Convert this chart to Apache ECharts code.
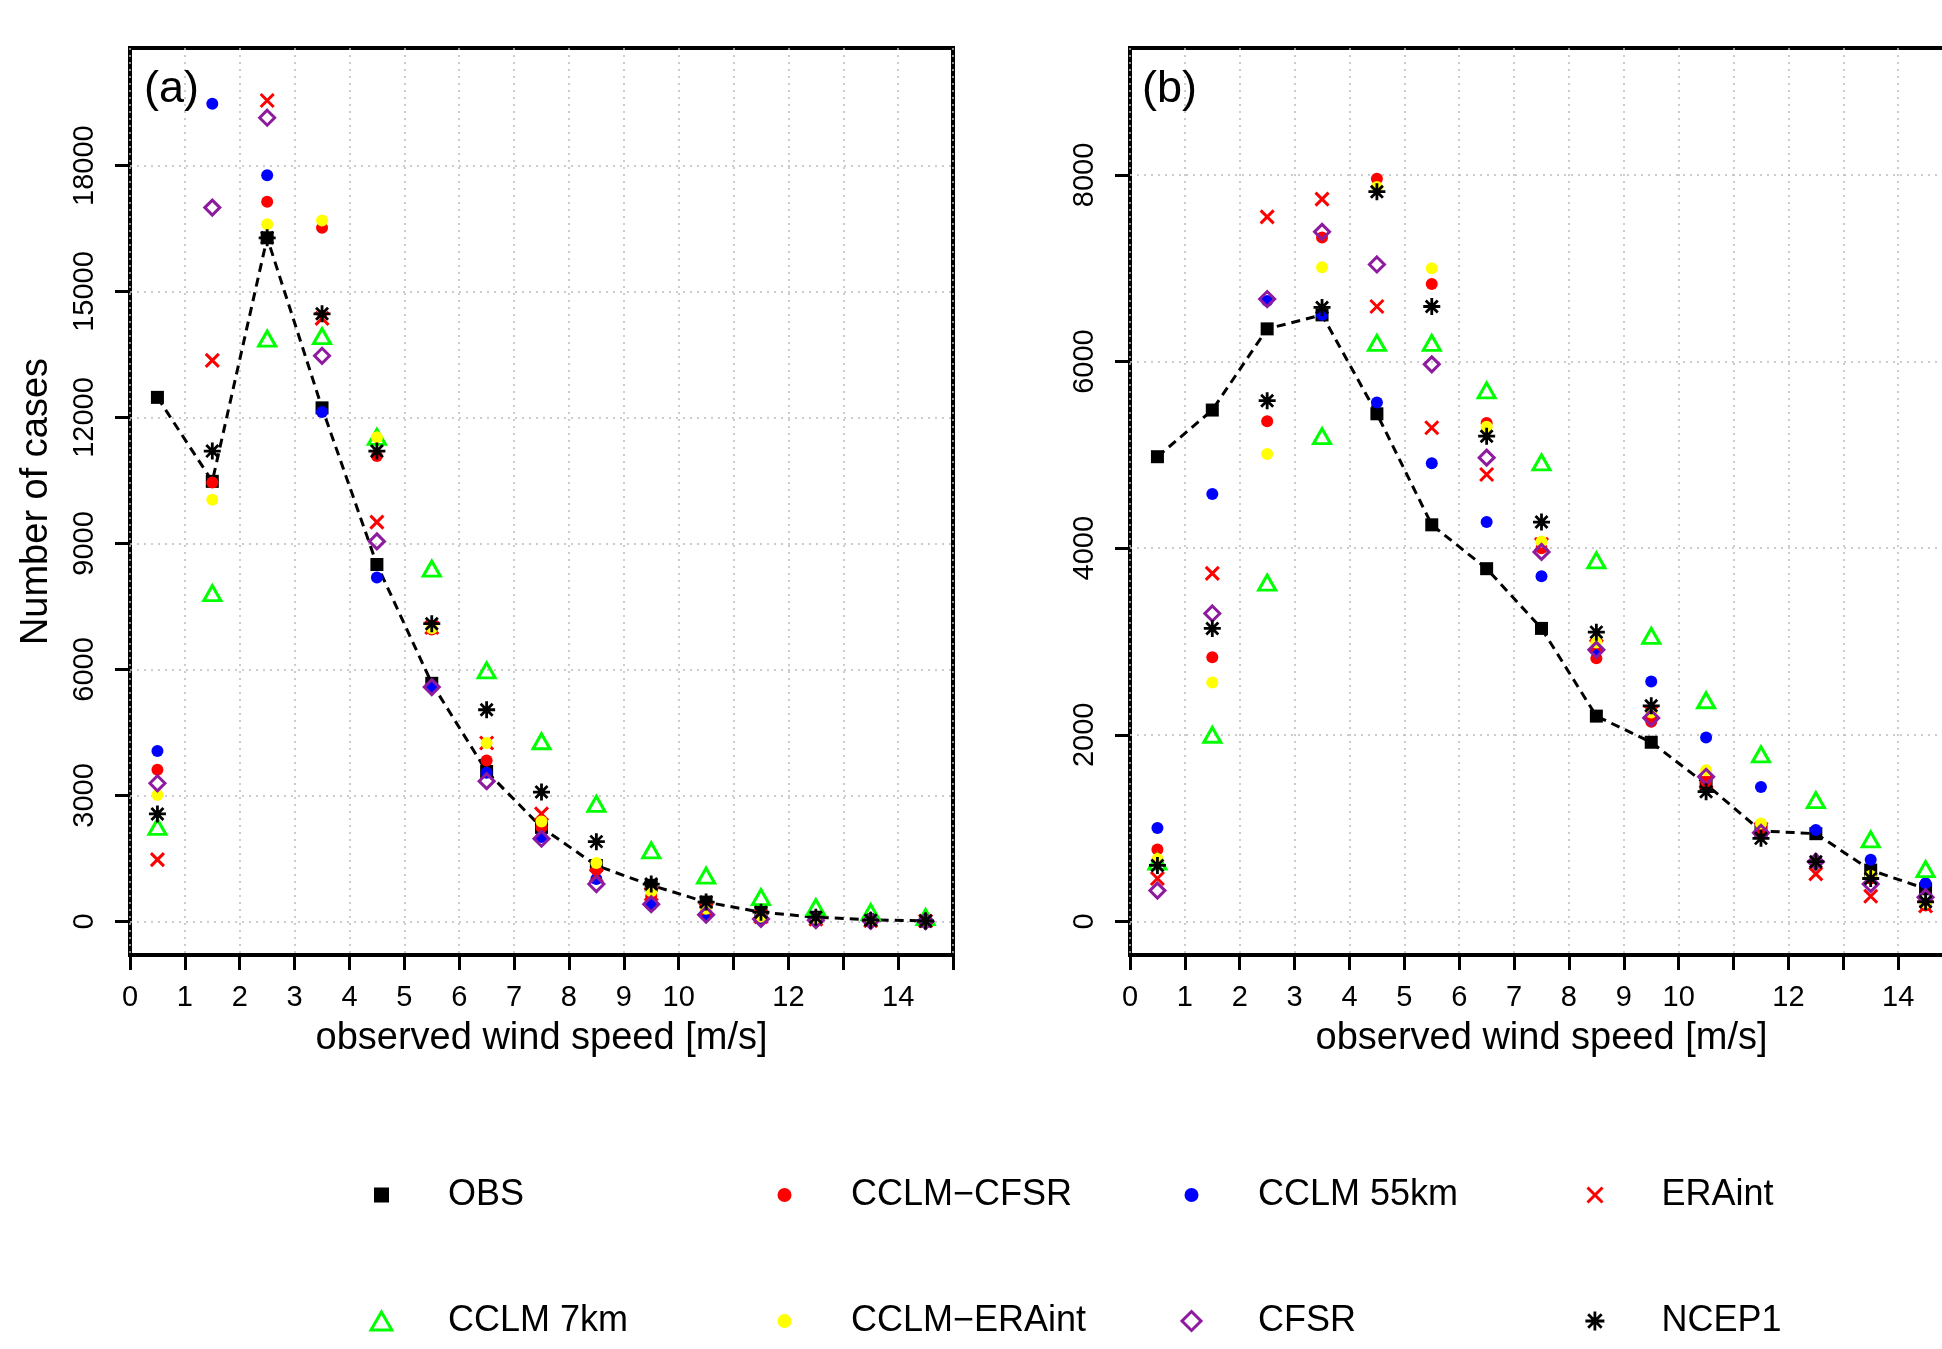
<!DOCTYPE html>
<html>
<head>
<meta charset="utf-8">
<script src="https://cdn.jsdelivr.net/npm/echarts@6/dist/echarts.min.js"></script>
<style>
html,body{margin:0;padding:0;background:#fff;}
#chart{width:1942px;height:1349px;}
</style>
</head>
<body>
<div id="chart"></div>
<script>
// ---------------- data ----------------
const windSpeed = [0.5,1.5,2.5,3.5,4.5,5.5,6.5,7.5,8.5,9.5,10.5,11.5,12.5,13.5,14.5];
const xTickLabels = [0,1,2,3,4,5,6,7,8,9,10,12,14];
const yTickLabelsA = [0,3000,6000,9000,12000,15000,18000];
const yTickLabelsB = [0,2000,4000,6000,8000];
const seriesNames = ['OBS','CCLM\u2212CFSR','CCLM 55km','ERAint','CCLM 7km','CCLM\u2212ERAint','CFSR','NCEP1'];

// panel (a)
const obsA        = [12480,10480,16280,12230,8500,5670,3570,2240,1330,860,460,220,100,40,10];
const cclmCfsrA   = [3610,10450,17140,16520,11085,6950,3830,2240,1230,600,250,90,50,20,10];
const cclm55A     = [4060,19470,17770,12130,8190,5580,3540,2010,1010,390,160,70,30,10,5];
const eraintA     = [1470,13360,19550,14360,9510,7000,4250,2560,1090,650,280,110,50,20,10];
const cclm7A      = [2250,7820,13880,13940,11540,8400,5980,4290,2800,1690,1090,580,340,220,100];
const cclmEraA    = [3010,10040,16600,16690,11530,6980,4250,2380,1390,720,300,110,60,20,10];
const cfsrA       = [3290,17000,19140,13470,9050,5580,3340,1970,890,410,160,60,30,10,5];
const ncep1A      = [2560,11200,16280,14470,11200,7090,5040,3080,1900,890,460,220,100,30,10];

// panel (b)
const obsB        = [4980,5480,6350,6500,5440,4250,3780,3140,2200,1920,1470,970,940,550,350];
const cclmCfsrB   = [770,2830,5360,7330,7960,6830,5340,4000,2820,2140,1500,1000,630,460,170];
const cclm55B     = [1000,4580,6650,6500,5560,4910,4280,3700,2900,2570,1970,1440,980,660,410];
const eraintB     = [460,3730,7550,7740,6590,5290,4790,4040,2950,2240,1500,990,510,270,165];
const cclm7B      = [640,2000,3630,5200,6200,6200,5690,4920,3870,3060,2370,1790,1300,880,560];
const cclmEraB    = [670,2560,5010,7010,7870,7000,5300,4070,2990,2240,1620,1050,640,490,200];
const cfsrB       = [330,3300,6670,7390,7040,5970,4970,3960,2910,2180,1550,950,640,400,260];
const ncep1B      = [600,3140,5580,6580,7820,6590,5200,4280,3100,2310,1390,890,640,460,210];

const panelA = [obsA,cclmCfsrA,cclm55A,eraintA,cclm7A,cclmEraA,cfsrA,ncep1A];
const panelB = [obsB,cclmCfsrB,cclm55B,eraintB,cclm7B,cclmEraB,cfsrB,ncep1B];

// ---------------- styles ----------------
const FONT = "'Liberation Sans', Arial, Helvetica, sans-serif";
const TRANSP = 'rgba(0,0,0,0)';
const SYM = {
  square: 'path://M0 0L10 0L10 10L0 10Z',
  cross: 'path://M0 0L10 10M0 10L10 0',
  triangle: 'path://M5 0L10 8.66L0 8.66Z',
  diamond: 'path://M5 0L10 5L5 10L0 5Z',
  star: 'path://M10 0L10 20M0 10L20 10M2.93 2.93L17.07 17.07M2.93 17.07L17.07 2.93'
};
const styles = [
  {symbol: SYM.square, size: 13, item: {color:'#000000', borderWidth:0, opacity:1}},
  {symbol: 'circle', size: 12, item: {color:'#ff0000', borderWidth:0, opacity:1}},
  {symbol: 'circle', size: 12, item: {color:'#0000ff', borderWidth:0, opacity:1}},
  {symbol: SYM.cross, size: 13, item: {color:TRANSP, borderColor:'#ff0000', borderWidth:3, opacity:1}},
  {symbol: SYM.triangle, size: [17,15], item: {color:TRANSP, borderColor:'#00ff00', borderWidth:3, opacity:1}},
  {symbol: 'circle', size: 12, item: {color:'#ffff00', borderWidth:0, opacity:1}},
  {symbol: SYM.diamond, size: 15, item: {color:TRANSP, borderColor:'#8e1a9f', borderWidth:3, opacity:1}},
  {symbol: SYM.star, size: 17, item: {color:TRANSP, borderColor:'#000000', borderWidth:2.8, opacity:1}}
];

// ---------------- axes ----------------
const gridLine = {show:true, lineStyle:{color:'#bcbcbc', width:1.5, type:[2,5]}};
const tickStyle = {show:true, length:15, lineStyle:{color:'#000', width:3}};
const plainNum = v => String(v);

function xAxisFor(idx) {
  return {
    type:'value', gridIndex:idx, min:0, max:15, interval:1,
    axisLine:{show:false, onZero:false},
    axisTick:tickStyle,
    axisLabel:{customValues:xTickLabels, formatter:plainNum, fontSize:29, lineHeight:29, margin:28, color:'#000', fontFamily:FONT},
    splitLine:gridLine,
    name:'observed wind speed [m/s]', nameLocation:'middle', nameGap:64,
    nameTextStyle:{fontSize:38, lineHeight:40, color:'#000', fontFamily:FONT}
  };
}
function yAxisFor(idx, mn, mx, labels, withName) {
  const ax = {
    type:'value', gridIndex:idx, min:mn, max:mx,
    axisLine:{show:false, onZero:false},
    axisTick:Object.assign({customValues:labels}, tickStyle),
    axisLabel:{customValues:labels, formatter:plainNum, rotate:90, fontSize:29, lineHeight:30, margin:30, color:'#000', fontFamily:FONT},
    splitLine:gridLine
  };
  if (withName) {
    ax.name = 'Number of cases';
    ax.nameLocation = 'middle';
    ax.nameGap = 73;
    ax.nameTextStyle = {fontSize:38, lineHeight:40, color:'#000', fontFamily:FONT};
  }
  return ax;
}

// ---------------- series ----------------
function pairs(vals) { return windSpeed.map((x,i)=>[x, vals[i]]); }
const series = [];
[panelA, panelB].forEach((panel, p) => {
  series.push({
    type:'line', name:'OBS line', xAxisIndex:p, yAxisIndex:p,
    data:pairs(panel[0]), symbol:'none', silent:true, z:1,
    lineStyle:{color:'#000', width:3, type:[9,6]}
  });
  panel.forEach((vals, k) => {
    const st = styles[k];
    series.push({
      type:'scatter', name:seriesNames[k], xAxisIndex:p, yAxisIndex:p,
      data:pairs(vals), symbol:st.symbol, symbolSize:st.size,
      itemStyle:st.item, emphasis:{disabled:true}, z:2 + k*0.01
    });
  });
});

// ---------------- legends ----------------
const legRowY = [1195, 1321];
const legColX = [381.5, 784.5, 1191.5, 1595];
const legendIcon = [SYM.square, 'circle', 'circle', SYM.cross, SYM.triangle, 'circle', SYM.diamond, SYM.star];
const legendIconH = [15, 14, 14, 15, 18, 14, 19, 19];
const legendIconW = [15, 14, 14, 18, 24, 14, 22, 22];
const legends = seriesNames.map((nm, k) => {
  const row = Math.floor(k/4), col = k%4;
  return {
    data:[{name:nm, icon:legendIcon[k], itemStyle:styles[k].item}],
    left: legColX[col] - legendIconW[k]/2,
    top: legRowY[row] - 22,
    padding:0, itemWidth:123, itemHeight:legendIconH[k], itemGap:0,
    selectedMode:false,
    textStyle:{fontSize:36, lineHeight:44, color:'#000', fontFamily:FONT}
  };
});

const option = {
  backgroundColor:'#ffffff',
  animation:false,
  textStyle:{fontFamily:FONT},
  title:[
    {text:'(a)', left:144, top:65, padding:0, textStyle:{fontSize:45, lineHeight:50, fontWeight:'normal', color:'#000', fontFamily:FONT}},
    {text:'(b)', left:1142, top:65, padding:0, textStyle:{fontSize:45, lineHeight:50, fontWeight:'normal', color:'#000', fontFamily:FONT}}
  ],
  legend:legends,
  grid:[
    {left:130, top:48, width:823, height:907, show:true, borderColor:'#000', borderWidth:4, backgroundColor:'transparent', containLabel:false, outerBoundsMode:'none'},
    {left:1130, top:48, width:823, height:907, show:true, borderColor:'#000', borderWidth:4, backgroundColor:'transparent', containLabel:false, outerBoundsMode:'none'}
  ],
  xAxis:[xAxisFor(0), xAxisFor(1)],
  yAxis:[yAxisFor(0,-800,20800,yTickLabelsA,true), yAxisFor(1,-360,9360,yTickLabelsB,false)],
  series:series
};
const chart = echarts.init(document.getElementById('chart'), null, {renderer:'canvas', width:1942, height:1349});
chart.setOption(option);
</script>
</body>
</html>
